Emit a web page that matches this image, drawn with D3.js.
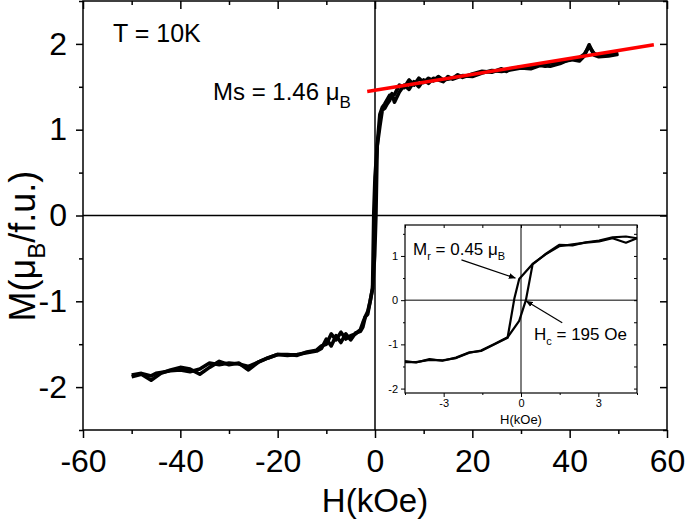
<!DOCTYPE html>
<html><head><meta charset="utf-8">
<script src="https://cdn.jsdelivr.net/npm/d3@7"></script>
<style>
body{margin:0;background:#fff}
svg{display:block}
text{font-family:"Liberation Sans",Arial,Helvetica,sans-serif;fill:#000}
</style>
</head><body>
<svg id="chart" width="685" height="520"></svg>
<script>
// ---- data ----
const xMajorTicks = [-60, -40, -20, 0, 20, 40, 60];
const xMinorTicks = [-50, -30, -10, 10, 30, 50];
const yMajorTicks = [-2, -1, 0, 1, 2];
const yMinorTicks = [-2.5, -1.5, -0.5, 0.5, 1.5, 2.5];

// field sweep from +50 kOe down to -50 kOe: [H (kOe), M (muB/f.u.)]
const sweepDown = [[50,1.89],[49,1.88],[48,1.87],[47,1.88],[46,1.86],[45,1.89],[44,1.97],[43,1.88],[42,1.84],[41,1.83],[40,1.81],[38,1.79],[36,1.78],[35,1.74],[34,1.76],[32,1.74],[30,1.73],[28,1.71],[27,1.68],[26,1.71],[24,1.67],[22,1.68],[20,1.65],[18,1.61],[17,1.64],[16,1.60],[14,1.58],[13,1.62],[12,1.57],[11,1.60],[10,1.55],[9,1.60],[8,1.52],[7,1.58],[6,1.49],[5,1.52],[4,1.41],[3,1.40],[2,1.30],[1.5,1.26],[1,1.18],[0.5,0.85],[0,0.45],[-0.25,0.03],[-0.5,-0.85],[-1,-1.0],[-1.5,-1.12],[-2,-1.18],[-2.5,-1.25],[-3,-1.33],[-4,-1.38],[-5,-1.40],[-6,-1.44],[-7,-1.36],[-8,-1.45],[-9,-1.38],[-10,-1.50],[-11,-1.52],[-12,-1.57],[-14,-1.59],[-16,-1.63],[-18,-1.62],[-20,-1.62],[-22,-1.66],[-24,-1.71],[-26,-1.80],[-28,-1.72],[-30,-1.74],[-32,-1.70],[-34,-1.77],[-36,-1.85],[-38,-1.79],[-40,-1.77],[-42,-1.80],[-44,-1.84],[-46,-1.92],[-48,-1.85],[-50,-1.88]];
// field sweep from -50 kOe back up to +50 kOe
const sweepUp = [[-50,-1.86],[-48,-1.84],[-46,-1.87],[-45,-1.84],[-44,-1.83],[-42,-1.81],[-40,-1.80],[-38,-1.82],[-36,-1.79],[-34,-1.72],[-32,-1.74],[-30,-1.72],[-28,-1.73],[-26,-1.76],[-24,-1.71],[-22,-1.66],[-20,-1.62],[-18,-1.63],[-16,-1.62],[-14,-1.60],[-12,-1.58],[-11,-1.55],[-10,-1.44],[-9,-1.52],[-8,-1.40],[-7,-1.48],[-6,-1.38],[-5,-1.45],[-4,-1.37],[-3,-1.35],[-2.5,-1.30],[-2,-1.18],[-1.5,-1.15],[-1,-1.0],[-0.5,-0.85],[-0.07,-0.47],[0.19,0.0],[0.45,0.81],[1,1.04],[1.5,1.23],[2,1.25],[2.5,1.30],[3,1.34],[3.5,1.42],[4,1.32],[5,1.44],[6,1.52],[7,1.47],[8,1.56],[9,1.50],[10,1.58],[11,1.54],[12,1.60],[14,1.56],[15,1.62],[16,1.59],[18,1.63],[20,1.62],[22,1.66],[24,1.69],[26,1.68],[28,1.70],[30,1.72],[32,1.71],[34,1.75],[36,1.74],[38,1.77],[40,1.82],[42,1.80],[43,1.86],[44,1.99],[45,1.87],[46,1.85],[48,1.86],[50,1.88]];

// red high-field linear fit (end points)
const fitLine = [[-1.6, 1.445], [57.3, 1.99]];

// inset (low-field loop)
const insetXTicks = [-3, 0, 3];
const insetXMinor = [-4.5, -1.5, 1.5, 4.5];
const insetYTicks = [-2, -1, 0, 1];
const insetYMinor = [-1.5, -0.5, 0.5, 1.5];
const insetDown = [[4.5,1.40],[4.07,1.30],[3.55,1.40],[3.03,1.33],[2.52,1.30],[2.0,1.26],[1.48,1.22],[0.97,1.04],[0.45,0.82],[-0.07,0.48],[-0.26,0.03],[-0.52,-0.85],[-1.03,-1.0],[-1.55,-1.15],[-2.0,-1.18],[-2.52,-1.30],[-3.04,-1.37],[-3.55,-1.335],[-4.07,-1.41],[-4.5,-1.38]];
const insetUp = [[-4.5,-1.40],[-4.07,-1.40],[-3.55,-1.35],[-3.04,-1.36],[-2.52,-1.31],[-2.0,-1.19],[-1.55,-1.14],[-1.03,-0.99],[-0.52,-0.84],[-0.07,-0.47],[0.19,0.0],[0.45,0.81],[0.97,1.05],[1.48,1.25],[2.0,1.24],[2.52,1.31],[3.03,1.35],[3.55,1.42],[4.07,1.44],[4.5,1.40]];
// annotation arrows in inset data coords: [tail, head]
const mrArrow = [[-2.31, 0.91], [-0.22, 0.50]];
const hcArrow = [[1.60, -0.51], [0.20, -0.02]];

// ---- drawing ----
const svg = d3.select("#chart");
const FONT = '"Liberation Sans",Arial,Helvetica,sans-serif';
const fmt = d => String(d);   // plain hyphen-minus like the reference

const x = d3.scaleLinear().domain([-60, 60]).range([83, 667]);
const y = d3.scaleLinear().domain([-2.5, 2.5]).range([430, 1]);

function styleAxis(g, fs) {
  g.attr("font-family", FONT).attr("font-size", fs);
  g.selectAll("path.domain").remove();
  g.selectAll("line").attr("stroke", "#000").attr("stroke-width", 1.5);
  g.selectAll("text").attr("fill", "#000");
}

// zero lines
svg.append("line").attr("x1", x(-60)).attr("x2", x(60)).attr("y1", y(0)).attr("y2", y(0))
  .attr("stroke", "#000").attr("stroke-width", 1.5);
svg.append("line").attr("x1", x(0)).attr("x2", x(0)).attr("y1", y(-2.5)).attr("y2", y(2.5))
  .attr("stroke", "#000").attr("stroke-width", 1.5);

// axes
const gB = svg.append("g").attr("transform", `translate(0,${y(-2.5)})`)
  .call(d3.axisBottom(x).tickValues(xMajorTicks).tickSize(8).tickSizeOuter(0).tickPadding(11).tickFormat(fmt));
styleAxis(gB, 32);
const gBm = svg.append("g").attr("transform", `translate(0,${y(-2.5)})`)
  .call(d3.axisBottom(x).tickValues(xMinorTicks).tickSize(4).tickSizeOuter(0).tickFormat(""));
styleAxis(gBm, 10);
const gT = svg.append("g").attr("transform", `translate(0,${y(2.5)})`)
  .call(d3.axisBottom(x).tickValues(xMajorTicks).tickSize(8).tickSizeOuter(0).tickFormat(""));
styleAxis(gT, 10);
const gTm = svg.append("g").attr("transform", `translate(0,${y(2.5)})`)
  .call(d3.axisBottom(x).tickValues(xMinorTicks).tickSize(4).tickSizeOuter(0).tickFormat(""));
styleAxis(gTm, 10);

const gL = svg.append("g").attr("transform", `translate(${x(-60)},0)`)
  .call(d3.axisLeft(y).tickValues(yMajorTicks).tickSize(7).tickSizeOuter(0).tickPadding(9).tickFormat(fmt));
styleAxis(gL, 32);
const gLm = svg.append("g").attr("transform", `translate(${x(-60)},0)`)
  .call(d3.axisLeft(y).tickValues(yMinorTicks).tickSize(4).tickSizeOuter(0).tickFormat(""));
styleAxis(gLm, 10);
const gR = svg.append("g").attr("transform", `translate(${x(60)},0)`)
  .call(d3.axisLeft(y).tickValues(yMajorTicks).tickSize(7).tickSizeOuter(0).tickFormat(""));
styleAxis(gR, 10);
const gRm = svg.append("g").attr("transform", `translate(${x(60)},0)`)
  .call(d3.axisLeft(y).tickValues(yMinorTicks).tickSize(4).tickSizeOuter(0).tickFormat(""));
styleAxis(gRm, 10);

// frame
svg.append("rect").attr("x", x(-60)).attr("y", y(2.5)).attr("width", x(60) - x(-60)).attr("height", y(-2.5) - y(2.5))
  .attr("fill", "none").attr("stroke", "#000").attr("stroke-width", 1.5);

// curves
const line = d3.line().x(d => x(d[0])).y(d => y(d[1]));
[sweepDown, sweepUp].forEach(s => {
  svg.append("path").datum(s).attr("d", line).attr("fill", "none")
    .attr("stroke", "#000").attr("stroke-width", 3.6).attr("stroke-linejoin", "round");
});
svg.append("path").datum(fitLine).attr("d", line).attr("fill", "none")
  .attr("stroke", "#ff0000").attr("stroke-width", 3.5);

// texts
svg.append("text").attr("x", 113).attr("y", 42).attr("font-size", 25).text("T = 10K");
const ms = svg.append("text").attr("x", 213).attr("y", 100).attr("font-size", 24);
ms.append("tspan").text("Ms = 1.46 \u03bc");
ms.append("tspan").attr("font-size", 17).attr("dy", 8).text("B");

svg.append("text").attr("x", x(0)).attr("y", 512).attr("text-anchor", "middle").attr("font-size", 33).text("H(kOe)");
const yl = svg.append("text").attr("transform", "translate(35,246) rotate(-90)").attr("text-anchor", "middle").attr("font-size", 36);
yl.append("tspan").text("M(\u03bc");
yl.append("tspan").attr("font-size", 24).attr("dy", 10).text("B");
yl.append("tspan").attr("dy", -10).text("/f.u.)");

// ---- inset ----
const ix = d3.scaleLinear().domain([-4.5, 4.5]).range([405, 637]);
const iy = d3.scaleLinear().domain([-2.1, 1.7]).range([393, 225]);
const inset = svg.append("g");
inset.append("rect").attr("x", ix(-4.5)).attr("y", iy(1.7)).attr("width", ix(4.5) - ix(-4.5)).attr("height", iy(-2.1) - iy(1.7))
  .attr("fill", "#fff");

function styleInset(g, fs) {
  g.attr("font-family", FONT).attr("font-size", fs);
  g.selectAll("path.domain").remove();
  g.selectAll("line").attr("stroke", "#000").attr("stroke-width", 1);
  g.selectAll("text").attr("fill", "#000");
}
inset.append("line").attr("x1", ix(-4.5)).attr("x2", ix(4.5)).attr("y1", iy(0)).attr("y2", iy(0)).attr("stroke", "#000").attr("stroke-width", 1);
inset.append("line").attr("x1", ix(0)).attr("x2", ix(0)).attr("y1", iy(-2.1)).attr("y2", iy(1.7)).attr("stroke", "#000").attr("stroke-width", 1);

const iB = inset.append("g").attr("transform", `translate(0,${iy(-2.1)})`)
  .call(d3.axisBottom(ix).tickValues(insetXTicks).tickSize(4).tickSizeOuter(0).tickPadding(2).tickFormat(fmt));
styleInset(iB, 11);
const iBm = inset.append("g").attr("transform", `translate(0,${iy(-2.1)})`)
  .call(d3.axisBottom(ix).tickValues(insetXMinor).tickSize(2).tickSizeOuter(0).tickFormat(""));
styleInset(iBm, 10);
const iT = inset.append("g").attr("transform", `translate(0,${iy(1.7)})`)
  .call(d3.axisBottom(ix).tickValues(insetXTicks.concat(insetXMinor)).tickSize(3).tickSizeOuter(0).tickFormat(""));
styleInset(iT, 10);
const iL = inset.append("g").attr("transform", `translate(${ix(-4.5)},0)`)
  .call(d3.axisLeft(iy).tickValues(insetYTicks).tickSize(4).tickSizeOuter(0).tickPadding(3).tickFormat(fmt));
styleInset(iL, 11);
const iLm = inset.append("g").attr("transform", `translate(${ix(-4.5)},0)`)
  .call(d3.axisLeft(iy).tickValues(insetYMinor).tickSize(2).tickSizeOuter(0).tickFormat(""));
styleInset(iLm, 10);
const iR = inset.append("g").attr("transform", `translate(${ix(4.5)},0)`)
  .call(d3.axisLeft(iy).tickValues(insetYTicks.concat(insetYMinor)).tickSize(3).tickSizeOuter(0).tickFormat(""));
styleInset(iR, 10);

inset.append("rect").attr("x", ix(-4.5)).attr("y", iy(1.7)).attr("width", ix(4.5) - ix(-4.5)).attr("height", iy(-2.1) - iy(1.7))
  .attr("fill", "none").attr("stroke", "#000").attr("stroke-width", 1.2);

const iline = d3.line().x(d => ix(d[0])).y(d => iy(d[1]));
[insetDown, insetUp].forEach(s => {
  inset.append("path").datum(s).attr("d", iline).attr("fill", "none")
    .attr("stroke", "#000").attr("stroke-width", 2.2).attr("stroke-linejoin", "round");
});

// arrows
const defs = svg.append("defs");
defs.append("marker").attr("id", "ah").attr("viewBox", "0 0 10 10").attr("refX", 9).attr("refY", 5)
  .attr("markerWidth", 6).attr("markerHeight", 6).attr("orient", "auto")
  .append("path").attr("d", "M0,1 L10,5 L0,9 z").attr("fill", "#000");
[mrArrow, hcArrow].forEach(a => {
  inset.append("line").attr("x1", ix(a[0][0])).attr("y1", iy(a[0][1])).attr("x2", ix(a[1][0])).attr("y2", iy(a[1][1]))
    .attr("stroke", "#000").attr("stroke-width", 1.2).attr("marker-end", "url(#ah)");
});

const mr = inset.append("text").attr("x", 413).attr("y", 255).attr("font-size", 17);
mr.append("tspan").text("M");
mr.append("tspan").attr("font-size", 11).attr("dy", 5).text("r");
mr.append("tspan").attr("dy", -5).text(" = 0.45 \u03bc");
mr.append("tspan").attr("font-size", 11).attr("dy", 5).text("B");
const hc = inset.append("text").attr("x", 534).attr("y", 340).attr("font-size", 17);
hc.append("tspan").text("H");
hc.append("tspan").attr("font-size", 11).attr("dy", 5).text("c");
hc.append("tspan").attr("dy", -5).text(" = 195 Oe");

inset.append("text").attr("x", ix(0)).attr("y", 424).attr("text-anchor", "middle").attr("font-size", 13).text("H(kOe)");
</script>
</body></html>
